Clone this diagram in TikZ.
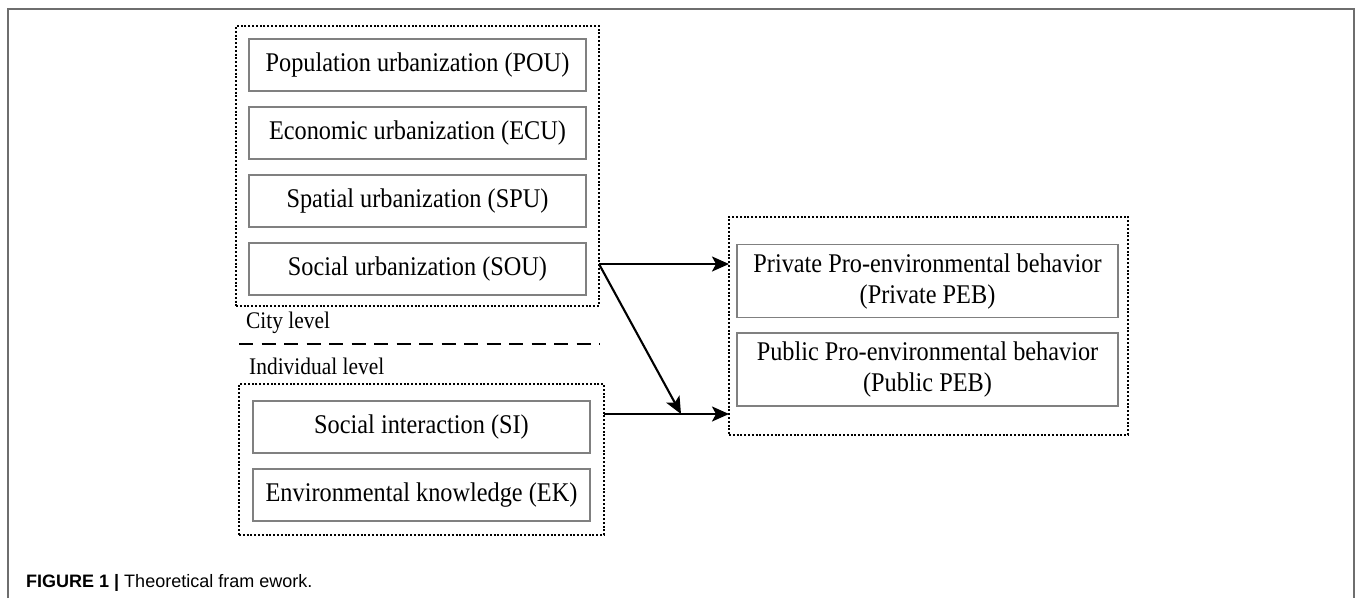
\documentclass[tikz,border=0pt]{standalone}
\usepackage{fontspec}
\setmainfont{Liberation Serif}[FakeStretch=0.9]
\setsansfont{Liberation Sans}
\usetikzlibrary{arrows.meta}
\definecolor{framegray}{RGB}{110,110,110}
\definecolor{boxgray}{RGB}{128,128,128}

\begin{document}
\begin{tikzpicture}[x=1pt,y=-1pt,
	groupbox/.style={draw=black,line width=1.9pt,dash pattern=on 2pt off 1.8pt,inner sep=0pt},
	factorbox/.style={draw=boxgray,line width=1.2pt,inner sep=0pt,minimum width=337pt,minimum height=52pt,font=\fontsize{27}{31}\selectfont},
	pebbox/.style={factorbox,minimum width=381pt,minimum height=73pt,align=center},
	levellabel/.style={anchor=base west,inner sep=0pt,font=\fontsize{23.8}{26}\selectfont},
	flow/.style={line width=2.1pt,-{Stealth[length=17pt,width=15pt,inset=4pt]}}]
	\useasboundingbox (0,0) rectangle (1355,598);
	\draw[framegray,line width=1.5pt] (8,598)--(8,9)--(1354,9)--(1354,598);
	% city level
	\node[groupbox,minimum width=363pt,minimum height=280pt] (city) at (417.5,166) {};
	\node[factorbox] (pou) at (417.5,65) {Population urbanization (POU)};
	\node[factorbox] (ecu) at (417.5,133) {Economic urbanization (ECU)};
	\node[factorbox] (spu) at (417.5,201) {Spatial urbanization (SPU)};
	\node[factorbox] (sou) at (417.5,269) {Social urbanization (SOU)};
	\node[levellabel] (citylab) at (246,328) {City level};
	\draw[line width=2pt,dash pattern=on 14pt off 8.5pt] (239,344)--(600,344);
	% individual level
	\node[levellabel] (indlab) at (249,374) {Individual level};
	\node[groupbox,minimum width=365pt,minimum height=151pt] (indiv) at (421.5,459.5) {};
	\node[factorbox] (si) at (421.5,427) {Social interaction (SI)};
	\node[factorbox] (ek) at (421.5,495) {Environmental knowledge (EK)};
	% outcomes
	\node[groupbox,minimum width=399pt,minimum height=218pt] (peb) at (928.5,326) {};
	\node[pebbox] (priv) at (927.5,281) {Private Pro-environmental behavior\\(Private PEB)};
	\node[pebbox] (pub) at (927.5,369.5) {Public Pro-environmental behavior\\(Public PEB)};
	\coordinate (souout) at (599,264);
	\coordinate (siout) at (604,414);
	\coordinate (join) at (681,414);
	\coordinate (privin) at (729,264);
	\coordinate (pubin) at (729,414);
	\draw[flow] (souout)--(privin);
	\draw[flow] (souout)--(join);
	\draw[flow] (siout)--(pubin);
	\node[anchor=base west,inner sep=0pt,font=\sffamily\fontsize{18}{20}\selectfont] (caption) at (26,587) {\textbf{FIGURE 1 |} Theoretical fram ework.};
\end{tikzpicture}
\end{document}
